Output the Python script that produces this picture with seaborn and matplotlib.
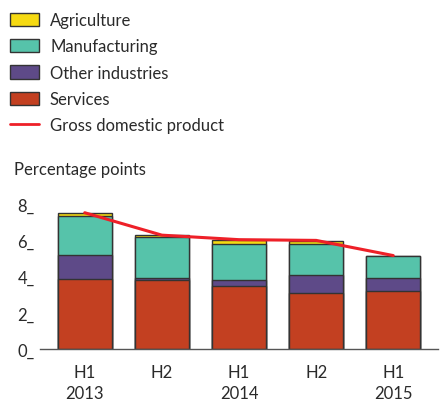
import numpy as np
import pandas as pd
import matplotlib
matplotlib.use("Agg")
import matplotlib.pyplot as plt
import seaborn as sns
from matplotlib.patches import Patch
from matplotlib.lines import Line2D

periods = ["H1\n2013", "H2", "H1\n2014", "H2", "H1\n2015"]
services = [3.90, 3.80, 3.46, 3.09, 3.20]
other_industries = [1.32, 0.12, 0.38, 1.03, 0.73]
manufacturing = [2.15, 2.27, 1.99, 1.71, 1.22]
agriculture = [0.17, 0.11, 0.20, 0.13, 0.02]
gdp = [7.54, 6.30, 6.05, 6.01, 5.17]
yticks = [0, 2, 4, 6, 8]

colors = {
    "Agriculture": "#F6DA12",
    "Manufacturing": "#56C3AA",
    "Other industries": "#5E4A88",
    "Services": "#C34021",
}
gdp_color = "#EE2028"

sns.set_style("white")
plt.rcParams["font.family"] = ["Lato", "DejaVu Sans"]
plt.rcParams["text.color"] = "#2a2a2a"
plt.rcParams["xtick.color"] = "#2a2a2a"
plt.rcParams["ytick.color"] = "#2a2a2a"

df = pd.DataFrame({
    "idx": np.arange(len(periods)),
    "Services": services,
    "Other industries": other_industries,
    "Manufacturing": manufacturing,
    "Agriculture": agriculture,
})
# cumulative tops, drawn from tallest down so the stack shows through
layers = ["Services", "Other industries", "Manufacturing", "Agriculture"]
cum = df[layers].cumsum(axis=1)

fig = plt.figure(figsize=(4.45, 4.02), dpi=100)
ax = fig.add_axes([40 / 445, 52 / 402, 398 / 445, 150 / 402])

for layer in reversed(layers):
    sns.barplot(x=df["idx"], y=cum[layer], color=colors[layer], width=0.7,
                edgecolor="#333333", linewidth=1.0, saturation=1, ax=ax)

sns.lineplot(x=np.arange(len(periods)), y=gdp, color=gdp_color, linewidth=2.2, ax=ax)

fs = 12
ax.set_xlim(-0.58, len(periods) - 1 + 0.58)
ax.set_ylim(0, 8.3)
ax.set_xticks(np.arange(len(periods)))
ax.set_xticklabels(periods, fontsize=fs, linespacing=1.45)
ax.set_yticks(yticks)
ax.set_yticklabels([f"{t}_" for t in yticks], fontsize=fs)
ax.tick_params(axis="x", length=0, pad=10.5)
ax.tick_params(axis="y", length=0, pad=4)
ax.set_xlabel("")
ax.set_ylabel("")
for s in ["top", "right", "left"]:
    ax.spines[s].set_visible(False)
ax.spines["bottom"].set_color("#555555")
ax.spines["bottom"].set_linewidth(1.0)

fig.text(14 / 445, 1 - 170 / 402, "Percentage points", fontsize=fs, va="center", ha="left")

handles = [Patch(facecolor=colors[k], edgecolor="#333333", linewidth=1.0, label=k)
           for k in ["Agriculture", "Manufacturing", "Other industries", "Services"]]
handles.append(Line2D([0], [0], color=gdp_color, linewidth=2, label="Gross domestic product"))
fig.legend(handles=handles, loc="upper left", bbox_to_anchor=(10 / 445, 1 - 13 / 402),
           frameon=False, fontsize=fs, handlelength=1.75, handleheight=0.85,
           handletextpad=0.65, labelspacing=0.62, borderaxespad=0, borderpad=0)

fig.savefig("out.png", dpi=100)
